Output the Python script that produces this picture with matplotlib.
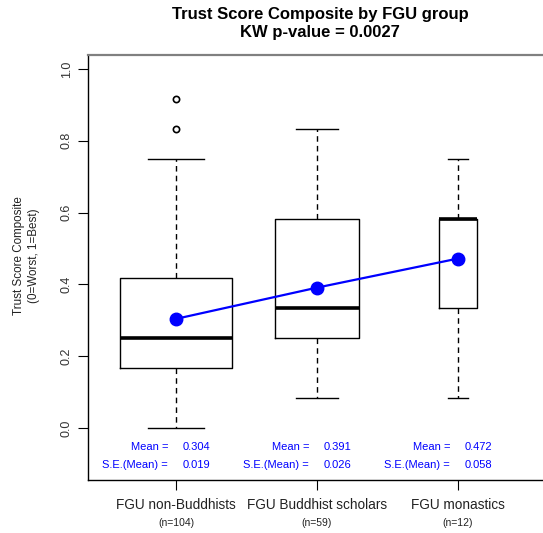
import matplotlib
matplotlib.use("Agg")
import matplotlib.pyplot as plt
import numpy as np

plt.rcParams['font.family'] = ['Liberation Sans', 'DejaVu Sans']

groups = ["FGU non-Buddhists", "FGU Buddhist scholars", "FGU monastics"]
counts = [104, 59, 12]
q1 = [0.1667, 0.25, 0.3333]
medians = [0.25, 0.3333, 0.5833]
q3 = [0.4167, 0.5833, 0.5833]
whis_lo = [0.0, 0.0833, 0.0833]
whis_hi = [0.75, 0.8333, 0.75]
outliers = [[0.8333, 0.9167], [], []]
means = [0.304, 0.391, 0.472]
se_means = [0.019, 0.026, 0.058]
title = "Trust Score Composite by FGU group\nKW p-value = 0.0027"
ylabel = "Trust Score Composite\n(0=Worst, 1=Best)"
yticks = [0.0, 0.2, 0.4, 0.6, 0.8, 1.0]

W, H = 543, 533
fig = plt.figure(figsize=(W/100, H/100), dpi=100)
l, r, t, b = 88, 550, 55, 480
ax = fig.add_axes([l/W, 1-b/H, (r-l)/W, (b-t)/H])

positions = np.arange(1, len(groups)+1)
widths = [0.8*np.sqrt(n/max(counts)) for n in counts]
stats = []
for i in range(len(groups)):
    stats.append(dict(med=medians[i], q1=q1[i], q3=q3[i], whislo=whis_lo[i],
                      whishi=whis_hi[i], fliers=outliers[i]))
caps = [w*0.5 for w in widths]
ax.bxp(stats, positions=positions, widths=widths, capwidths=caps, showfliers=True,
       boxprops=dict(color='black', linewidth=1.0),
       medianprops=dict(color='black', linewidth=2.6, solid_capstyle='butt'),
       whiskerprops=dict(color='black', linewidth=1.0, linestyle=(0, (4, 3))),
       capprops=dict(color='black', linewidth=1.0),
       flierprops=dict(marker='o', markersize=4.5, markerfacecolor='white',
                       markeredgecolor='black', markeredgewidth=1.2))

ax.plot(positions, means, color='#0000ff', linewidth=1.6, marker='o',
        markersize=9, markerfacecolor='#0000ff', markeredgecolor='#0000ff', zorder=5)

for i, p in enumerate(positions):
    ax.text(p-0.055, -0.053, "Mean =", color='#0000ff', fontsize=8, ha='right', va='center')
    ax.text(p+0.05, -0.053, f"{means[i]:.3f}", color='#0000ff', fontsize=8, ha='left', va='center')
    ax.text(p-0.055, -0.103, "S.E.(Mean) =", color='#0000ff', fontsize=8, ha='right', va='center')
    ax.text(p+0.05, -0.103, f"{se_means[i]:.3f}", color='#0000ff', fontsize=8, ha='left', va='center')

ax.set_xlim(1-(176-l)/141, 1+(r-176)/141)
ax.set_ylim(-(b-428)/359, 1+(69-t)/359)

ax.set_yticks(yticks)
ax.set_yticklabels([f"{v:.1f}" for v in yticks], rotation=90, va='center', fontsize=9, color='#333333')
ax.tick_params(axis='y', length=7, width=0.8, pad=4)
ax.set_xticks(positions)
ax.set_xticklabels([])
ax.tick_params(axis='x', length=7, width=0.8)
xt = ax.get_xaxis_transform()
for i, p in enumerate(positions):
    ax.text(p, -0.059, groups[i], transform=xt, ha='center', va='center', fontsize=9.8, color='#222222')
    ax.text(p, -0.1, f"(n={counts[i]})", transform=xt, ha='center', va='center', fontsize=7.5, color='#222222')

ax.spines['top'].set_color('#808080')
ax.spines['top'].set_linewidth(1.6)
ax.spines['right'].set_visible(False)
for s in ['left', 'bottom']:
    ax.spines[s].set_color('black')
    ax.spines[s].set_linewidth(1.0)

fig.text(320/W, 1-23.5/H, title, ha='center', va='center', fontsize=12, fontweight='bold',
         linespacing=1.3)
fig.text(26.5/W, 1-256/H, ylabel, rotation=90, ha='center', va='center', fontsize=8.4,
         color='#222222', linespacing=1.4)

fig.savefig("out.png", dpi=100)
